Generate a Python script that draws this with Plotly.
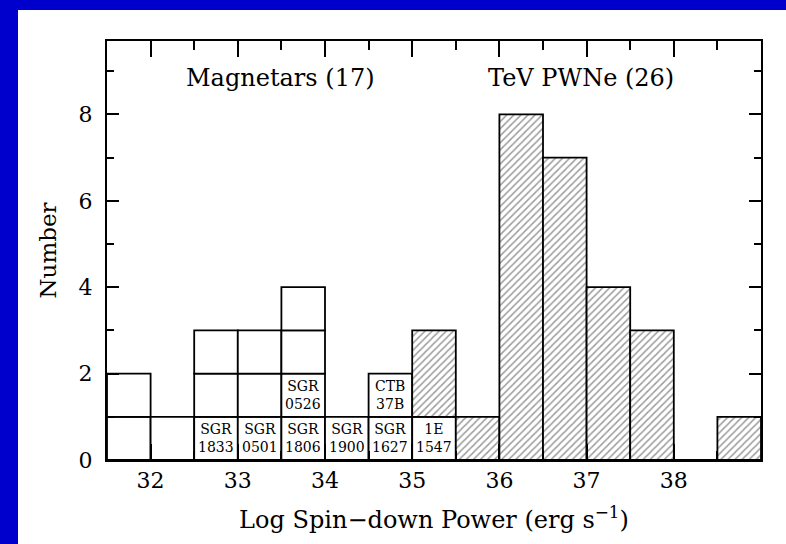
import plotly.graph_objects as go

# ---- data ----
bin_width = 0.5
mag_centers = [31.75, 32.25, 32.75, 33.25, 33.75, 34.25, 34.75, 35.25]
mag_counts = [2, 1, 3, 3, 4, 1, 2, 1]

pwn_centers = [35.25, 35.75, 36.25, 36.75, 37.25, 37.75, 38.25, 38.75]
pwn_counts = [2, 1, 8, 7, 4, 3, 0, 1]

label_x = [32.75, 33.25, 33.75, 33.75, 34.25, 34.75, 34.75, 35.25]
label_level = [1, 1, 1, 2, 1, 1, 2, 1]
label_text = ["SGR<br>1833", "SGR<br>0501", "SGR<br>1806", "SGR<br>0526",
              "SGR<br>1900", "SGR<br>1627", "CTB<br>37B", "1E<br>1547"]

x_ticks = [32, 33, 34, 35, 36, 37, 38]
y_ticks = [0, 2, 4, 6, 8]

group_titles = ["Magnetars (17)", "TeV PWNe (26)"]
group_title_x = [33.49, 36.93]
group_title_y = [8.85, 8.85]

FONT = "DejaVu Serif"
BLUE = "#0000cc"

# ---- build boxes for magnetars (one unit box per object) ----
box_x, box_base = [], []
for c, n in zip(mag_centers, mag_counts):
    for lev in range(n):
        box_x.append(c)
        box_base.append(lev)
mag_lookup = dict(zip(mag_centers, mag_counts))
pwn_base = [mag_lookup.get(c, 0) for c in pwn_centers]

fig = go.Figure()
fig.add_trace(go.Bar(
    x=box_x, y=[1] * len(box_x), base=box_base, width=bin_width,
    marker=dict(color="white", line=dict(color="black", width=1.8)),
    showlegend=False, hoverinfo="skip"))
fig.add_trace(go.Bar(
    x=pwn_centers, y=pwn_counts, base=pwn_base, width=bin_width,
    marker=dict(color="white",
                line=dict(color="black", width=1.8),
                pattern=dict(shape="/", fgcolor="#3a3a3a", bgcolor="white",
                             size=5, solidity=0.3)),
    showlegend=False, hoverinfo="skip"))

annotations = []
for x, lev, t in zip(label_x, label_level, label_text):
    annotations.append(dict(x=x, y=lev - 0.5, xref="x", yref="y", text=t,
                            showarrow=False,
                            font=dict(family=FONT, size=14, color="black")))
for t, x, y in zip(group_titles, group_title_x, group_title_y):
    annotations.append(dict(x=x, y=y, xref="x", yref="y", text=t,
                            showarrow=False,
                            font=dict(family=FONT, size=24, color="black")))

# page geometry (plot area: x 107..761, y 41..460)
W, H = 786, 544
L, R, T, B = 107, 25, 41, 84
pw, ph = W - L - R, H - T - B
def px(xp):
    return (xp - L) / pw
def py(yp):
    return (H - B - yp) / ph

shapes = [
    dict(type="rect", xref="paper", yref="paper", layer="below",
         x0=px(0), x1=px(W), y0=py(H), y1=py(0),
         fillcolor=BLUE, line=dict(width=0)),
    dict(type="rect", xref="paper", yref="paper", layer="below",
         x0=px(18), x1=px(W), y0=py(H), y1=py(10),
         fillcolor="white", line=dict(width=0)),
]

fig.update_layout(
    width=W, height=H,
    margin=dict(l=L, r=R, t=T, b=B),
    barmode="overlay",
    paper_bgcolor="white", plot_bgcolor="white",
    shapes=shapes, annotations=annotations,
    font=dict(family=FONT, color="black"),
    xaxis=dict(range=[31.5, 39.0], tickvals=x_ticks,
               ticks="inside", ticklen=16, tickwidth=1.5, tickcolor="black",
               minor=dict(dtick=0.5, tick0=31.5, ticks="inside", ticklen=9,
                          tickwidth=1.5, tickcolor="black", showgrid=False),
               showline=True, linecolor="black", linewidth=2, mirror="ticks",
               showgrid=False, zeroline=False,
               tickfont=dict(family=FONT, size=22),
               title=dict(text="Log Spin\u2212down Power (erg s<sup>\u22121</sup>)",
                          font=dict(family=FONT, size=24), standoff=19)),
    yaxis=dict(range=[0, 9.7], tickvals=y_ticks,
               ticks="inside", ticklen=12, tickwidth=1.5, tickcolor="black",
               minor=dict(dtick=1, tick0=0, ticks="inside", ticklen=7,
                          tickwidth=1.5, tickcolor="black", showgrid=False),
               showline=True, linecolor="black", linewidth=2, mirror="ticks",
               showgrid=False, zeroline=False, ticklabelstandoff=8,
               tickfont=dict(family=FONT, size=22),
               title=dict(text="Number", font=dict(family=FONT, size=23),
                          standoff=16)),
)

fig.write_html("out.html")
